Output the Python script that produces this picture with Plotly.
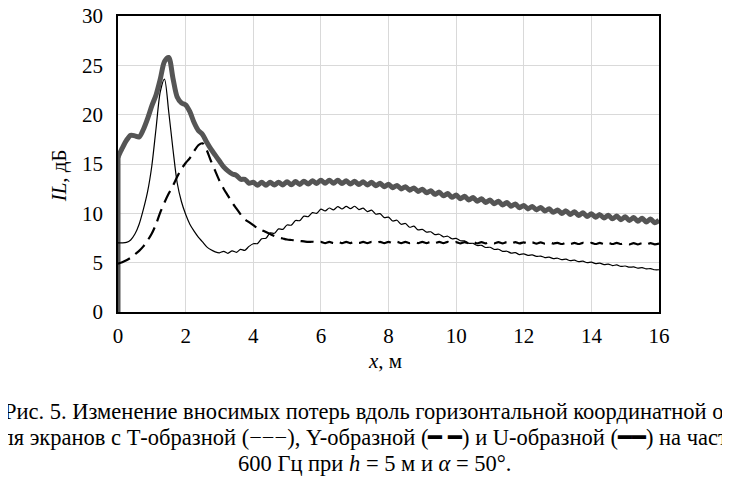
import numpy as np
import plotly.graph_objects as go

# расстояние вдоль горизонтальной оси, м (шаг 0.125 м)
x_m = np.arange(0, 16.0001, 0.125)

# Т-образный экран (тонкая линия), по 8 точек на метр
il_T = [
    7.0, 7.0, 7.05, 7.3, 7.9, 8.9, 10.4, 12.2,
    14.8, 18.6, 22.3, 23.6, 20.3, 16.5, 13.1, 11.2,
    9.9, 8.9, 8.2, 7.6, 7.1, 6.6, 6.3, 6.1,
    6.0, 6.15, 5.95, 6.2, 6.05, 6.35, 6.25, 6.65,
    6.92, 6.93, 7.42, 7.48, 8.02, 7.98, 8.42, 8.38,
    8.82, 8.8, 9.27, 9.26, 9.72, 9.66, 10.07, 10.0,
    10.42, 10.24, 10.54, 10.36, 10.67, 10.44, 10.7, 10.47,
    10.72, 10.38, 10.52, 10.18, 10.32, 9.91, 9.97, 9.56,
    9.62, 9.22, 9.3, 8.89, 8.97, 8.59, 8.7, 8.32,
    8.38, 8.1, 8.13, 7.85, 7.88, 7.62, 7.68, 7.42,
    7.46, 7.22, 7.21, 6.96, 6.96, 6.74, 6.76, 6.54,
    6.56, 6.34, 6.36, 6.14, 6.16, 5.97, 6.01, 5.82,
    5.9, 5.74, 5.79, 5.63, 5.67, 5.52, 5.56, 5.41,
    5.45, 5.3, 5.35, 5.2, 5.25, 5.1, 5.15, 5.0,
    5.05, 4.9, 4.95, 4.81, 4.86, 4.71, 4.77, 4.62,
    4.66, 4.54, 4.57, 4.45, 4.49, 4.37, 4.4, 4.28,
    4.28]

# Y-образный экран (штриховая линия)
il_Y = [
    4.9, 5.05, 5.25, 5.5, 5.85, 6.2, 6.65, 7.25,
    7.95, 8.9, 10.1, 11.1, 12.0, 12.8, 13.7, 14.5,
    15.1, 15.6, 16.3, 16.9, 17.1, 16.4, 15.3, 14.3,
    13.3, 12.5, 11.8, 11.1, 10.5, 9.9, 9.4, 9.1,
    8.8, 8.5, 8.3, 8.1, 7.9, 7.7, 7.55, 7.45,
    7.35, 7.3, 7.25, 7.2, 7.15, 7.1, 7.12, 7.05,
    7.11, 6.99, 7.11, 6.99, 7.11, 6.99, 7.11, 6.99,
    7.11, 6.99, 7.11, 6.99, 7.11, 6.99, 7.11, 6.99,
    7.11, 6.99, 7.11, 6.99, 7.11, 6.99, 7.11, 6.99,
    7.11, 6.99, 7.11, 6.99, 7.11, 6.99, 7.11, 6.99,
    7.08, 6.96, 7.08, 6.96, 7.08, 6.96, 7.08, 6.96,
    7.08, 6.96, 7.08, 6.96, 7.08, 6.96, 7.08, 6.96,
    7.06, 6.94, 7.06, 6.94, 7.06, 6.94, 7.06, 6.94,
    7.01, 6.89, 7.01, 6.89, 7.01, 6.89, 7.01, 6.89,
    7.01, 6.89, 7.01, 6.89, 7.01, 6.89, 7.01, 6.89,
    6.98, 6.86, 6.98, 6.86, 6.98, 6.86, 6.98, 6.86,
    6.93]

# U-образный экран (толстая линия)
il_U = [
    15.7, 16.6, 17.4, 17.9, 17.85, 17.75, 18.5, 19.6,
    20.9, 22.0, 23.6, 25.4, 25.8, 23.7, 21.8, 21.2,
    21.0, 20.3, 19.2, 18.4, 18.0, 17.2, 16.5, 15.9,
    15.3, 14.7, 14.3, 14.0, 13.85, 13.45, 13.45, 13.05,
    13.15, 12.85, 13.15, 12.85, 13.15, 12.86, 13.16, 12.88,
    13.2, 12.9, 13.22, 12.93, 13.25, 12.97, 13.3, 13.03,
    13.35, 13.05, 13.35, 13.05, 13.35, 13.02, 13.3, 12.97,
    13.25, 12.92, 13.2, 12.87, 13.15, 12.8, 13.05, 12.7,
    12.95, 12.6, 12.83, 12.47, 12.7, 12.35, 12.58, 12.22,
    12.45, 12.08, 12.3, 11.92, 12.15, 11.77, 12.0, 11.62,
    11.85, 11.48, 11.72, 11.35, 11.6, 11.23, 11.47, 11.1,
    11.35, 10.98, 11.22, 10.85, 11.1, 10.72, 10.95, 10.57,
    10.8, 10.45, 10.7, 10.35, 10.6, 10.23, 10.47, 10.1,
    10.35, 9.98, 10.25, 9.88, 10.15, 9.78, 10.05, 9.68,
    9.95, 9.6, 9.87, 9.52, 9.8, 9.44, 9.72, 9.36,
    9.65, 9.28, 9.57, 9.2, 9.5, 9.12, 9.42, 9.05,
    9.3]

x_ticks = [0, 2, 4, 6, 8, 10, 12, 14, 16]
y_ticks = [0, 5, 10, 15, 20, 25, 30]

caption = [
    "Рис. 5. Изменение вносимых потерь вдоль горизонтальной координатной оси",
    "для экранов с Т-образной (−−−), Y-образной (━ ━) и U-образной (━━) на частоте",
    "600 Гц при <i>h</i> = 5 м и <i>α</i> = 50°.",
]

font = "Liberation Serif, Times New Roman, serif"

fig = go.Figure()

# кривые начинаются от нуля на левой границе (вертикальный участок при x = 0)
for vals, col, w in [(il_T, "black", 1.2), (il_Y, "black", 2), (il_U, "#555555", 5)]:
    fig.add_trace(go.Scatter(x=[x_m[0], x_m[0]], y=[0, vals[0]], mode="lines",
                             line=dict(color=col, width=w), hoverinfo="skip"))

fig.add_trace(go.Scatter(x=x_m, y=il_U, mode="lines", name="U",
                         line=dict(color="#555555", width=5, shape="spline", smoothing=0.8)))
fig.add_trace(go.Scatter(x=x_m, y=il_Y, mode="lines", name="Y",
                         line=dict(color="black", width=2.2, dash="13px,7px",
                                   shape="spline", smoothing=0.8)))
fig.add_trace(go.Scatter(x=x_m, y=il_T, mode="lines", name="T",
                         line=dict(color="black", width=1.2, shape="spline", smoothing=0.8)))

axis_style = dict(showgrid=True, gridcolor="#d9d9d9", gridwidth=1.2, zeroline=False,
                  showline=True, linecolor="black", linewidth=1.5, mirror=True,
                  ticks="", automargin=False, ticklabeloverflow="allow",
                  tickfont=dict(family=font, size=21, color="black"))
fig.update_xaxes(range=[0, 16], tickvals=x_ticks, ticklabelstandoff=4, **axis_style)
fig.update_yaxes(range=[0, 30], tickvals=y_ticks, ticklabelstandoff=9, **axis_style)

ann = [
    dict(text="<i>IL</i>, дБ", x=-0.11, y=0.46, textangle=-90),
    dict(text="<i>x</i>, м", x=0.4935, y=-0.165),
]
for a in ann:
    fig.add_annotation(xref="paper", yref="paper", showarrow=False,
                       xanchor="center", yanchor="middle",
                       font=dict(family=font, size=21, color="black"), **a)

cap_y = [-0.337, -0.425, -0.513]
for txt, yy in zip(caption, cap_y):
    fig.add_annotation(text=txt, xref="paper", yref="paper", x=0.475, y=yy,
                       showarrow=False, xanchor="center", yanchor="middle",
                       font=dict(family=font, size=22.5, color="black"))

# страница добавляет отступ 8 px, поэтому поля слева и сверху уменьшены
fig.update_layout(
    width=730, height=486,
    margin=dict(l=110, r=79, t=8, b=182),
    paper_bgcolor="white", plot_bgcolor="white",
    showlegend=False,
)

fig.write_html("out.html")
